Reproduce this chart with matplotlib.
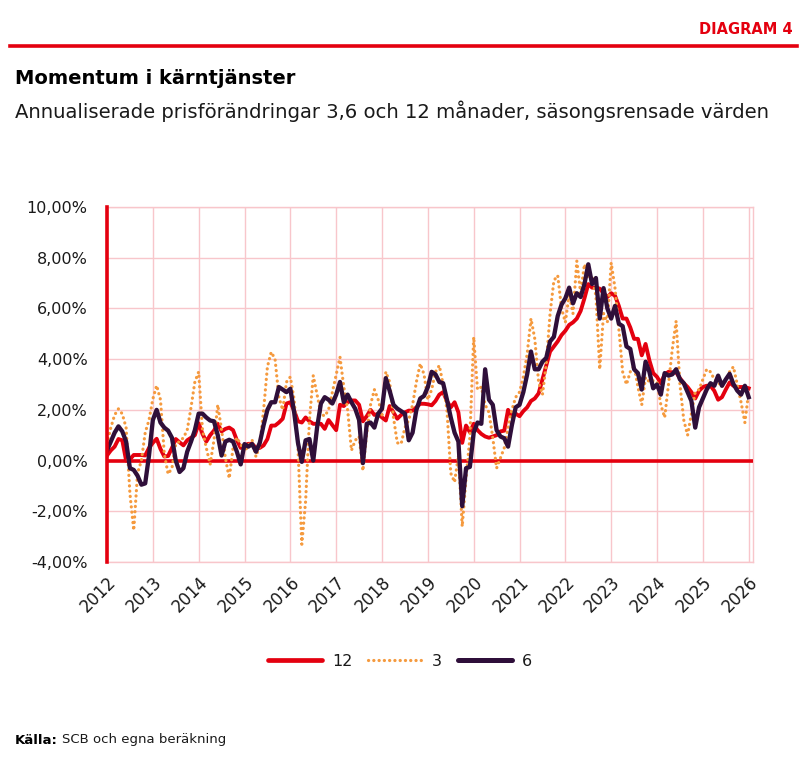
import numpy as np
import matplotlib
matplotlib.use("Agg")
import matplotlib.pyplot as plt
from matplotlib.lines import Line2D
from matplotlib.transforms import ScaledTranslation

# ----- Data (monthly, Jan 2012 - Jan 2026) -----
start_year = 2012
year_ticks = list(range(2012, 2027))
y_ticks = [-4, -2, 0, 2, 4, 6, 8, 10]
series_names = ["12", "3", "6"]

s12 = [
    0.2, 0.4, 0.55, 0.85, 0.8, 0.0, 0.05, 0.22, 0.22, 0.22, 0.2, 0.5,
    0.7, 0.86, 0.46, 0.16, 0.18, 0.5, 0.85, 0.72, 0.6, 0.8, 0.9, 1.0,
    1.47, 1.05, 0.75, 1.0, 1.18, 1.45, 1.15, 1.25, 1.3, 1.2, 0.8, 0.5,
    0.6, 0.66, 0.66, 0.5, 0.5, 0.6, 0.85, 1.38, 1.38, 1.5, 1.65, 2.25,
    2.3, 1.97, 1.55, 1.5, 1.7, 1.55, 1.45, 1.45, 1.45, 1.25, 1.6, 1.4,
    1.2, 2.2, 2.15, 2.3, 2.37, 2.37, 2.2, 1.55, 1.75, 2.0, 1.8, 1.84,
    1.7, 1.58, 2.15, 1.9, 1.65, 1.8, 1.9, 1.97, 1.97, 2.1, 2.24, 2.24,
    2.22, 2.18, 2.35, 2.6, 2.7, 2.35, 2.1, 2.3, 1.9, 0.7, 1.38, 1.12,
    1.45, 1.2, 1.05, 0.95, 0.9, 0.95, 1.0, 1.15, 1.18, 2.0, 1.75, 1.85,
    1.75, 1.95, 2.1, 2.35, 2.45, 2.65, 3.2, 3.75, 4.3, 4.5, 4.7, 4.95,
    5.12, 5.35, 5.45, 5.6, 5.9, 6.4, 6.96, 6.82, 6.82, 6.78, 6.6, 6.45,
    6.6, 6.5, 6.1, 5.6, 5.6, 5.25, 4.8, 4.8, 4.15, 4.6, 3.95, 3.45,
    3.3, 3.05, 3.4, 3.5, 3.48, 3.48, 3.25, 3.05, 2.9, 2.7, 2.45, 2.75,
    2.9, 2.95, 2.95, 2.75, 2.4, 2.5, 2.8, 3.08, 2.95, 2.9, 2.9, 2.9,
    2.85,
]

s3 = [
    0.66, 1.3, 1.8, 2.04, 1.84, 1.3, -1.3, -2.75, -0.5, 0.0, 1.1, 1.6,
    2.43, 2.96, 2.4, 0.26, -0.53, -0.3, 0.66, 0.75, 0.9, 1.2, 2.1, 3.1,
    3.5, 1.2, 0.5, -0.15, 0.8, 2.2, 1.2, 0.1, -0.7, 0.5, 0.9, 0.65,
    0.35, 0.6, 0.8, 0.15, 0.6, 2.0, 3.7, 4.28, 4.0, 2.5, 2.0, 3.1,
    3.3, 2.4, 0.5, -3.3, -1.6, 1.6, 3.35, 2.6, 1.85, 1.75, 2.0, 2.7,
    3.4, 4.08, 2.9, 2.0, 0.4, 0.8, 0.95, -0.4, 1.1, 2.2, 2.8, 2.4,
    1.8, 3.5, 3.1, 1.7, 0.7, 0.66, 1.3, 1.6, 2.2, 3.1, 3.82, 3.4,
    2.4, 2.8, 3.5, 3.75, 3.0, 2.0, -0.5, -0.85, 0.2, -2.6, -0.7, 0.9,
    4.87, 2.8, 2.9, 2.2, 1.9, 0.9, -0.3, 0.1, 0.5, 1.3, 2.0, 2.5,
    2.7, 3.3, 4.2, 5.6, 4.8, 3.1, 2.6, 3.8, 5.8, 7.1, 7.3, 6.0,
    5.45, 6.56, 5.8, 7.87, 6.6, 7.74, 7.22, 7.2, 6.5, 3.6, 5.8, 5.45,
    7.8, 6.8, 5.2, 3.5, 3.0, 3.5, 3.74, 2.9, 2.2, 3.28, 3.1, 3.15,
    3.1, 2.2, 1.7, 3.0, 4.4, 5.5, 3.0, 1.6, 1.0, 1.84, 2.7, 2.8,
    3.2, 3.6, 3.5, 3.2, 3.1, 2.9, 3.15, 3.5, 3.7, 3.0, 2.3, 1.5,
    2.7,
]

s6 = [
    0.4, 0.75, 1.1, 1.35, 1.15, 0.75, -0.3, -0.37, -0.6, -0.95, -0.9, 0.2,
    1.6, 2.0, 1.5, 1.3, 1.18, 0.9, 0.0, -0.45, -0.3, 0.35, 0.75, 1.2,
    1.85, 1.85, 1.7, 1.58, 1.55, 1.0, 0.2, 0.75, 0.82, 0.75, 0.35, -0.15,
    0.65, 0.55, 0.65, 0.35, 0.7, 1.4, 2.0, 2.3, 2.3, 2.9, 2.8, 2.7,
    2.83, 1.9, 0.7, -0.05, 0.8, 0.85, 0.0, 1.3, 2.25, 2.5, 2.4, 2.25,
    2.6, 3.1, 2.3, 2.6, 2.3, 2.04, 1.6, -0.1, 1.45, 1.5, 1.3, 1.85,
    2.05, 3.25, 2.75, 2.2, 2.05, 1.95, 1.85, 0.8, 1.1, 2.0, 2.45, 2.55,
    2.9, 3.5, 3.4, 3.1, 3.05, 2.4, 1.7, 1.1, 0.75, -1.8, -0.3, -0.25,
    1.1, 1.5, 1.45, 3.6, 2.4, 2.2, 1.2, 0.95, 0.88, 0.55, 1.4, 2.1,
    2.2, 2.7, 3.4, 4.3, 3.6, 3.6, 3.9, 4.05, 4.7, 4.88, 5.7, 6.15,
    6.4, 6.82, 6.2, 6.6, 6.45, 6.96, 7.74, 6.96, 7.2, 5.6, 6.8, 6.0,
    5.6, 6.1, 5.4, 5.3, 4.5, 4.4, 3.6, 3.45, 2.8, 3.9, 3.5, 2.85,
    3.0, 2.6, 3.45, 3.35, 3.4, 3.6, 3.2, 3.05, 2.7, 2.35, 1.3, 2.1,
    2.45, 2.8, 3.05, 2.95, 3.35, 2.95, 3.2, 3.42, 3.02, 2.76, 2.6, 2.95,
    2.5,
]

x = start_year + np.arange(len(s12)) / 12

# ----- Colours -----
red = "#E4000F"
orange = "#F59A3E"
dark = "#2F0F3A"
grid_pink = "#F8C6CB"
text_col = "#1A1A1A"
dot_style = (0, (0.05, 1.6))

W, H = 804, 769
fig = plt.figure(figsize=(W / 100, H / 100), dpi=100)

# ----- Header -----
fig.text(793 / W, 1 - 30 / H, "DIAGRAM 4", color=red, fontsize=10.5,
         fontweight="bold", ha="right", va="center")
fig.add_artist(Line2D([10 / W, 797 / W], [1 - 46 / H] * 2, color=red, lw=2.6))
fig.text(15 / W, 1 - 78 / H, "Momentum i kärntjänster", color="black",
         fontsize=14, fontweight="bold", ha="left", va="center")
fig.text(15 / W, 1 - 111 / H,
         "Annualiserade prisförändringar 3,6 och 12 månader, säsongsrensade värden",
         color=text_col, fontsize=14.1, ha="left", va="center")

# ----- Axes -----
left, right, top, bottom = 107, 753, 207, 562
ax = fig.add_axes([left / W, 1 - bottom / H, (right - left) / W, (bottom - top) / H])

ax.plot(x, s12, color=red, lw=2.8, solid_joinstyle="round", zorder=4)
ax.plot(x, s3, color=orange, lw=2.3, linestyle=dot_style,
        dash_capstyle="round", zorder=5)
ax.plot(x, s6, color=dark, lw=3.1, solid_joinstyle="round", zorder=6)
ax.axhline(0, color=red, lw=2.6, zorder=3)

ax.set_xlim(2012, 2012 + (right - 107.5) / 45.8)
ax.set_ylim(-4, 10)
ax.set_yticks(y_ticks)
ax.set_yticklabels([f"{v:.2f}".replace(".", ",") + "%" for v in y_ticks],
                   fontsize=11.5, color=text_col)
ax.set_xticks(year_ticks)
ax.set_xticklabels([str(yv) for yv in year_ticks], fontsize=12,
                   color=text_col, rotation=45, ha="right",
                   rotation_mode="anchor")
offset = ScaledTranslation(0.09, 0, fig.dpi_scale_trans)
for lab in ax.get_xticklabels():
    lab.set_transform(lab.get_transform() + offset)

ax.tick_params(axis="both", length=0)
ax.tick_params(axis="y", pad=14)
ax.tick_params(axis="x", pad=8)
ax.grid(True, color=grid_pink, lw=1, zorder=0)
ax.set_axisbelow(True)

for side in ["top", "right", "bottom"]:
    ax.spines[side].set_color(grid_pink)
    ax.spines[side].set_linewidth(1)
ax.spines["left"].set_color(red)
ax.spines["left"].set_linewidth(2.6)
ax.spines["left"].set_zorder(7)

# ----- Legend -----
handles = [
    Line2D([], [], color=red, lw=3.4, solid_capstyle="round"),
    Line2D([], [], color=orange, lw=2.3, linestyle=dot_style, dash_capstyle="round"),
    Line2D([], [], color=dark, lw=3.6, solid_capstyle="round"),
]
fig.legend(handles, series_names, loc="center", bbox_to_anchor=(400 / W, 1 - 661 / H),
           ncol=3, frameon=False, fontsize=11.5, handlelength=3.4,
           handletextpad=0.6, columnspacing=1.0, labelcolor=text_col)

# ----- Footer -----
src = fig.text(15 / W, 1 - 740 / H, "Källa:", fontsize=9.5, fontweight="bold",
               color="black", ha="left", va="center")
renderer = fig.canvas.get_renderer()
bb = src.get_window_extent(renderer=renderer)
fig.text((bb.x1 + 4) / W, 1 - 740 / H, "SCB och egna beräkning", fontsize=9.5,
         color=text_col, ha="left", va="center")

fig.savefig("out.png", dpi=100)
